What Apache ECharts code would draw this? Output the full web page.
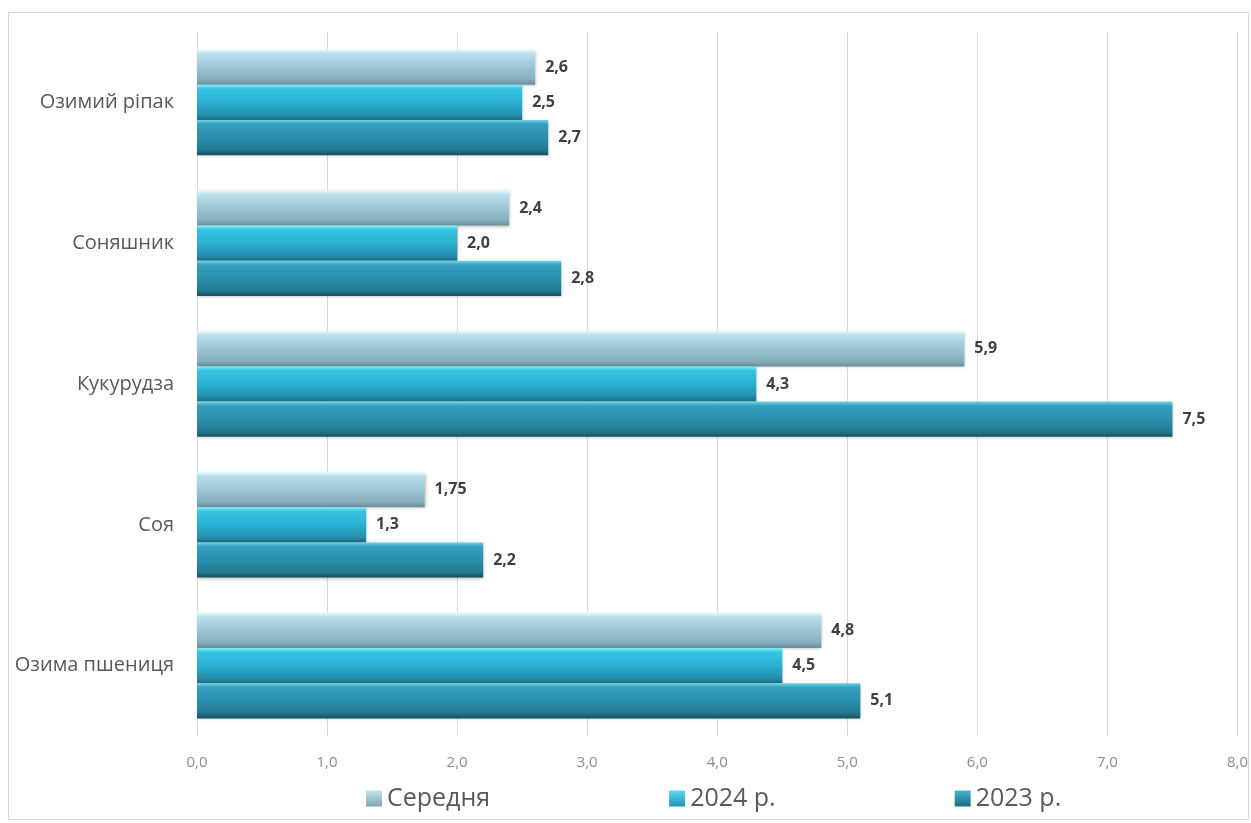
<!DOCTYPE html>
<html><head><meta charset="utf-8">
<script src="https://cdn.jsdelivr.net/npm/echarts@6/dist/echarts.min.js"></script>
<style>html,body{margin:0;padding:0;background:#fff}#c{width:1251px;height:823px}</style>
</head><body><div id="c"></div>
<script>
const categories = ['Озима пшениця', 'Соя', 'Кукурудза', 'Соняшник', 'Озимий ріпак'];
const seriesNames = ['Середня', '2024 р.', '2023 р.'];
const avgValues = [4.8, 1.75, 5.9, 2.4, 2.6];
const v2024 = [4.5, 1.3, 4.3, 2.0, 2.5];
const v2023 = [5.1, 2.2, 7.5, 2.8, 2.7];
const xTicks = [0, 1, 2, 3, 4, 5, 6, 7, 8];

function fmt(v) {
  const s = String(v);
  const dec = s.indexOf('.') >= 0 ? s.split('.')[1].length : 0;
  return v.toFixed(Math.max(1, dec)).replace('.', ',');
}
function grad(stops) {
  return new echarts.graphic.LinearGradient(0, 0, 0, 1, stops.map(c => ({offset: c[0], color: c[1]})));
}
const styles = [
  grad([[0, '#e6fbfd'], [0.12, '#b9dfea'], [0.5, '#9cc6d6'], [0.85, '#86aebb'], [1, '#6a8e99']]),
  grad([[0, '#7deef8'], [0.12, '#36c4e2'], [0.5, '#2bb0d3'], [0.85, '#2490ae'], [1, '#1b6a80']]),
  grad([[0, '#6fd6e8'], [0.12, '#349fbe'], [0.5, '#2a8fad'], [0.85, '#237890'], [1, '#174f5e']])
];
const legendIcons = [
  grad([[0, '#c4e2ec'], [1, '#7fa6b6']]),
  grad([[0, '#5fd8ef'], [1, '#1f93b5']]),
  grad([[0, '#48b4cf'], [1, '#1c6c84']])
];
const data = [avgValues, v2024, v2023];

const chart = echarts.init(document.getElementById('c'));
chart.setOption({
  animation: false,
  graphic: [{type: 'rect', shape: {x: 8.5, y: 12.5, width: 1240, height: 807}, style: {fill: 'none', stroke: '#d9d9d9', lineWidth: 1}, silent: true}],
  grid: {left: 197, right: 13, top: 32, height: 704},
  legend: {
    top: 781, left: 361, itemGap: 179, itemWidth: 16, itemHeight: 16, icon: 'rect',
    textStyle: {fontSize: 25, color: '#595959', fontFamily: 'Open Sans'},
    data: seriesNames.map((n, i) => ({name: n, itemStyle: {color: legendIcons[i]}}))
  },
  xAxis: {
    type: 'value', min: 0, max: 8, interval: 1,
    axisLine: {show: false}, axisTick: {show: false},
    splitLine: {lineStyle: {color: '#d9d9d9'}},
    axisLabel: {formatter: v => xTicks.includes(v) ? v.toFixed(1).replace('.', ',') : '', color: '#8c8c8c', fontSize: 15, margin: 19, fontFamily: 'Open Sans'}
  },
  yAxis: {
    type: 'category', data: categories,
    axisLine: {show: false}, axisTick: {show: false},
    axisLabel: {color: '#595959', fontSize: 20, margin: 23, fontFamily: 'Open Sans'}
  },
  series: seriesNames.map((n, i) => ({
    name: n, type: 'bar', data: data[i],
    barGap: '0%', barCategoryGap: '25%',
    itemStyle: {color: styles[i], shadowColor: 'rgba(0,0,0,0.25)', shadowBlur: 3, shadowOffsetX: 1, shadowOffsetY: 1},
    label: {show: true, position: 'right', distance: 10, formatter: p => fmt(p.value), color: '#404040', fontSize: 16, fontWeight: 'bold', fontFamily: 'Open Sans'}
  }))
});
</script></body></html>
